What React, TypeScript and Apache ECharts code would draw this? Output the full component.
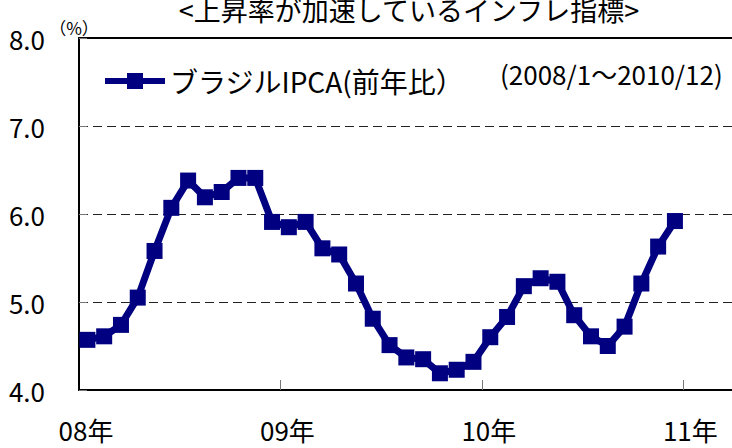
import React, { useEffect, useRef } from "react";
import * as echarts from "echarts";

const titleText = "<上昇率が加速しているインフレ指標>";
const seriesName = "ブラジルIPCA(前年比）";
const periodText = "(2008/1〜2010/12)";
const unitText = "（%）";
const yearLabels = ["08年", "09年", "10年", "11年"];
const yearTickMonths = [0, 12, 24, 36];
// Monthly values 2008/1 .. 2010/12
const ipca = [
  4.57, 4.61, 4.74, 5.05, 5.58, 6.07, 6.38, 6.19, 6.25, 6.41, 6.41, 5.91,
  5.85, 5.91, 5.61, 5.54, 5.21, 4.81, 4.51, 4.37, 4.35, 4.19, 4.23, 4.32,
  4.60, 4.83, 5.18, 5.27, 5.23, 4.85, 4.61, 4.50, 4.72, 5.21, 5.63, 5.92,
];
// visible month span of the x axis (the axis runs past the picture's right edge)
const xMaxMonths = 38.9;

const FONT = "Noto Sans CJK JP";

export default function App() {
  const ref = useRef<HTMLDivElement>(null);
  useEffect(() => {
    document.body.style.margin = "0";
    const chart = echarts.init(ref.current!, null, { renderer: "svg" });
    const data = ipca.map((v, i) => [i + 0.5, v]);
    chart.setOption({
      animation: false,
      textStyle: { fontFamily: FONT },
      grid: { left: 79, top: 38, height: 352, right: 0, containLabel: false },
      legend: {
        left: 97,
        top: 62,
        itemWidth: 60,
        itemHeight: 20,
        lineStyle: { width: 6 },
        textStyle: { fontSize: 28, color: "#000", fontFamily: FONT },
        data: [seriesName],
      },
      xAxis: [
        {
          type: "value",
          min: 0,
          max: xMaxMonths,
          axisLine: { show: true, onZero: false, lineStyle: { color: "#000", width: 2 } },
          axisTick: {
            show: true,
            inside: true,
            length: 10,
            customValues: yearTickMonths.slice(1),
            lineStyle: { color: "#777", width: 1 },
          },
          splitLine: { show: false },
          axisLabel: {
            fontSize: 26,
            color: "#000",
            margin: 26,
            padding: [0, 0, 0, 14],
            fontFamily: FONT,
            customValues: yearTickMonths,
            formatter: (v: number) => yearLabels[Math.round(v / 12)] ?? "",
          },
        },
        {
          type: "value",
          position: "top",
          min: 0,
          max: xMaxMonths,
          axisLine: { show: true, onZero: false, lineStyle: { color: "#000", width: 2 } },
          axisTick: { show: false },
          axisLabel: { show: false },
          splitLine: { show: false },
        },
      ],
      yAxis: {
        type: "value",
        min: 4,
        max: 8,
        interval: 1,
        axisLine: { show: true, lineStyle: { color: "#000", width: 2 } },
        axisTick: { show: true, inside: true, length: 8, lineStyle: { color: "#777", width: 1 } },
        splitLine: { show: true, lineStyle: { color: "#222", width: 1, type: [9, 5] } },
        axisLabel: {
          fontSize: 26,
          color: "#000",
          margin: 34,
          padding: [8, 0, 0, 0],
          fontFamily: FONT,
          formatter: (v: number) => v.toFixed(1),
        },
      },
      graphic: [
        {
          type: "text",
          x: 409,
          y: 9,
          style: { text: titleText, fontSize: 27, fontFamily: FONT, fill: "#000", align: "center", verticalAlign: "middle" },
        },
        {
          type: "text",
          x: 74,
          y: 27,
          style: { text: unitText, fontSize: 17, fontFamily: FONT, fill: "#000", align: "center", verticalAlign: "middle" },
        },
        {
          type: "text",
          x: 500,
          y: 73,
          style: { text: periodText, fontSize: 26, fontFamily: FONT, fill: "#000", align: "left", verticalAlign: "middle" },
        },
      ],
      series: [
        {
          name: seriesName,
          type: "line",
          data,
          symbol: "rect",
          symbolSize: 16,
          lineStyle: { color: "#000080", width: 7 },
          itemStyle: { color: "#000080" },
          clip: false,
        },
      ],
    });
    return () => chart.dispose();
  }, []);
  return <div ref={ref} style={{ width: 732, height: 448 }} />;
}
